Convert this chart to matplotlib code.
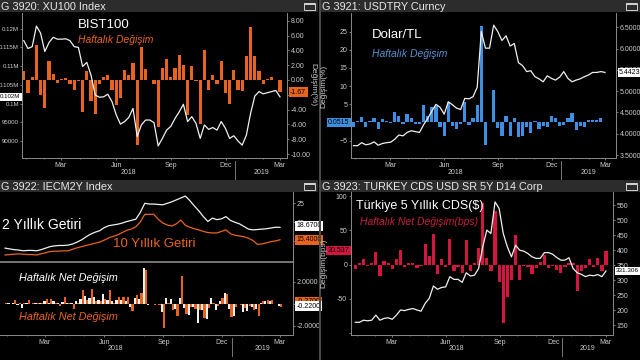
import matplotlib
matplotlib.use('Agg')
import matplotlib.pyplot as plt
import matplotlib.dates as mdates
from matplotlib.patches import Rectangle
from matplotlib.transforms import blended_transform_factory as blend
import pandas as pd

plt.rcParams['font.family'] = ['Liberation Sans', 'DejaVu Sans']

# weekly dates shared by all four panels
weeks = pd.date_range('2017-12-29', periods=62, freq='7D')

# --- G 3920: XU100 Index ---
bist_chg = [1.2, -1.7, 0.4, 4.7, -2.1, -3.8, 2.6, 0.8, -0.4, 0.1,
            0.2, -0.5, -1.4, -0.1, -4.3, 1.2, -2.8, -4.6, -0.6, 0.4,
            0.7, -1.4, -3.4, -2.5, 1.3, 0.7, 2.3, -8.8, 4.5, 1.5,
            0.0, -0.6, -6.4, 1.6, 2.8, 0.4, 1.6, 3.4, 2.0, -4.8,
            1.9, -0.1, -6.0, 4.1, -1.3, 0.7, -0.5, 2.6, -1.7, -3.2,
            1.4, -1.4, -1.5, 3.2, 7.2, 3.2, 1.2, -0.5, 0.1, 0.4,
            0.0, -1.67]
bist = [116800, 114700, 115200, 120700, 118800, 113900, 116300, 117700, 117200, 117200,
        117300, 116800, 115200, 115000, 109900, 111000, 107600, 102300, 101700, 101800,
        102500, 100500, 97000, 94500, 95200, 96300, 98700, 91200, 94300, 95600,
        95600, 94900, 88700, 90700, 92900, 93900, 96000, 97800, 99800, 95200,
        96500, 94700, 90700, 94300, 93100, 93600, 92900, 95200, 93400, 90700,
        91400, 90000, 88900, 91600, 97400, 102000, 103200, 102600, 102900, 103200,
        103500, 101800]
bist_ticks = [90000, 95000, 100000, 105000, 110000, 115000, 120000]
bist_ticklabels = ['90000', '95000', '0.1M', '0.105M', '0.11M', '0.115M', '0.12M']

# --- G 3921: USDTRY Curncy ---
usd_chg = [-1.3, 0.5, 1.5, -1.3, 0.5, 1.3, -1.7, 0.9, 0.4, -0.1,
           2.8, 1.7, -0.3, 2.3, 1.2, -0.3, -0.5, 4.7, 1.8, 4.2,
           4.5, -1.3, -3.6, 5.6, -1.0, -1.7, -0.3, 5.7, -0.6, 1.3,
           4.9, 26.5, -6.3, 0.0, 9.0, -1.5, -3.8, 1.8, -3.8, 1.3,
           -4.0, -3.8, -1.2, -2.8, 0.5, -1.8, -0.9, -1.3, 1.7, 1.1,
           -0.9, -0.7, 1.2, 2.5, -2.1, -1.0, -1.2, 0.8, 0.7, 0.8,
           1.2, 0.05]
usdtry = [3.72, 3.72, 3.79, 3.74, 3.76, 3.81, 3.73, 3.77, 3.79, 3.80,
          3.87, 3.97, 3.95, 4.03, 4.07, 4.05, 4.03, 4.21, 4.36, 4.53,
          4.69, 4.62, 4.46, 4.75, 4.68, 4.60, 4.57, 4.83, 4.82, 4.87,
          5.09, 6.40, 6.01, 6.01, 6.55, 6.40, 6.19, 6.30, 6.06, 6.12,
          5.67, 5.60, 5.46, 5.48, 5.34, 5.29, 5.22, 5.36, 5.30, 5.26,
          5.33, 5.46, 5.30, 5.22, 5.26, 5.29, 5.34, 5.38, 5.44, 5.44,
          5.46, 5.44]

# --- G 3922: IECM2Y Index ---
y2 = [13.2, 13.0, 12.8, 12.7, 12.5, 12.6, 12.6, 12.5, 12.8, 13.2,
      13.6, 13.8, 13.9, 13.9, 14.0, 14.3, 14.8, 15.4, 16.2, 16.9,
      17.4, 17.8, 18.6, 19.1, 19.3, 19.5, 19.8, 20.2, 20.5, 20.8,
      22.6, 25.0, 24.8, 24.8, 24.7, 24.6, 25.0, 25.4, 25.9, 26.4,
      26.9, 25.7, 24.3, 23.0, 21.5, 20.2, 21.1, 20.7, 20.9, 21.5,
      20.5, 20.0, 19.6, 18.9, 18.2, 18.0, 18.1, 18.2, 18.3, 18.5,
      18.7, 18.67]
y10 = [11.4, 11.5, 11.6, 11.7, 11.6, 11.5, 11.5, 11.4, 11.7, 12.0,
       12.3, 12.4, 12.4, 12.5, 12.5, 12.9, 13.3, 13.6, 13.9, 14.2,
       14.5, 14.8, 15.3, 15.9, 16.3, 16.7, 17.3, 17.9, 18.2, 18.8,
       20.1, 22.1, 22.1, 22.1, 20.8, 19.8, 19.3, 19.0, 19.6, 20.6,
       19.2, 18.7, 18.3, 18.0, 17.6, 17.3, 17.2, 17.2, 17.6, 18.0,
       17.0, 16.6, 16.4, 16.2, 15.8, 15.2, 14.2, 14.3, 14.6, 14.9,
       15.1, 15.4]
y2_chg = [0.0, 0.05, 0.1, -0.1, -0.35, 0.05, -0.05, 0.05, 0.1, 0.2,
          0.1, 0.2, 0.1, 0.15, 0.1, 0.1, 0.2, 0.4, 0.7, 0.5,
          0.6, 0.3, 0.9, 0.3, 0.2, 0.3, 0.3, 0.2, -0.3, 0.5,
          0.4, 3.2, -0.1, 0.0, -0.05, -0.8, 0.5, 0.4, -0.5, 0.5,
          -0.4, -1.0, -0.3, -1.8, -0.6, -1.4, 0.5, -0.6, 0.2, 1.0,
          -0.5, -1.1, -0.05, -0.8, -0.7, -0.3, -0.5, 0.1, 0.2, 0.2,
          -0.05, -0.22]
y10_chg = [0.05, -0.05, 0.35, 0.1, 0.1, 0.3, 0.05, 0.05, 0.05, 0.4,
           0.4, 0.1, -0.2, 0.6, 0.05, -0.5, 0.05, 1.2, 0.3, 1.3,
           0.2, 0.2, 0.4, 1.2, 0.1, 0.6, 0.6, 0.6, -0.7, 0.8,
           1.0, 3.1, 0.0, -0.1, -0.1, -2.2, 0.1, -0.6, -1.1, 2.5,
           -0.9, -0.3, -0.5, -0.6, -1.3, -0.4, 0.1, -0.2, 0.5, 0.9,
           -1.2, -0.3, -0.1, -0.4, -0.2, -0.6, -1.1, 0.2, 0.3, 0.3,
           0.0, -0.27]

# --- G 3923: TURKEY CDS USD SR 5Y D14 Corp ---
cds_chg = [-7, 2, 8, -2, 2, 18, -17, 5, 3, -6,
           8, 22, -3, 3, 3, -5, -2, 30, 13, 45,
           -13, 8, -4, 37, -10, -3, -12, 36, -10, 3,
           25, 90, 10, -10, 78, -25, -85, -47, -22, 43,
           -22, -2, -3, -14, -5, 4, 14, -5, -2, -8,
           -12, -3, 3, 3, -38, -10, -5, 8, -4, 9,
           -10, 20.537]
cds = [160, 160, 167, 165, 167, 184, 167, 173, 175, 170,
       184, 201, 199, 203, 206, 201, 197, 223, 240, 281,
       270, 276, 278, 312, 303, 303, 293, 325, 314, 317,
       339, 411, 467, 456, 561, 539, 456, 411, 378, 417,
       400, 397, 389, 378, 373, 373, 392, 392, 387, 376,
       367, 367, 375, 339, 325, 320, 312, 317, 315, 319,
       312, 331]

ORANGE = '#e8641e'
BLUE = '#3d8fe3'
RED = '#d3163d'
WHITE = '#f0f0f0'
GRAY = '#8a8a8a'
TXT = '#cccccc'
FS = 5  # tick label size

fig = plt.figure(figsize=(6.4, 3.6), dpi=100, facecolor='black')


def box(x0, y0, x1, y1):
    return [x0 / 640, 1 - y1 / 360, (x1 - x0) / 640, (y1 - y0) / 360]


def style(ax):
    ax.set_facecolor('black')
    for s in ax.spines.values():
        s.set_visible(False)
        s.set_color(GRAY)
        s.set_linewidth(0.7)
    ax.tick_params(colors=GRAY, labelcolor=TXT, labelsize=FS, length=1.5, width=0.6, pad=1.2)
    ax.tick_params(which='minor', length=1, width=0.5, colors=GRAY)


def time_axis(ax, x0, x1, m18, m19, h):
    d18 = mdates.date2num(pd.Timestamp('2018-03-01'))
    d19 = mdates.date2num(pd.Timestamp('2019-03-01'))
    k = (d19 - d18) / (m19 - m18)
    lo, hi = d18 + (x0 - m18) * k, d18 + (x1 - m18) * k
    ax.xaxis.set_major_locator(mdates.MonthLocator(bymonth=[3, 6, 9, 12]))
    ax.xaxis.set_major_formatter(mdates.DateFormatter('%b'))
    ax.xaxis.set_minor_locator(mdates.MonthLocator())
    ax.spines['bottom'].set_visible(True)
    sep = mdates.date2num(pd.Timestamp('2018-12-16'))
    tr = blend(ax.transData, ax.transAxes)
    ax.plot([sep, sep], [-3 / h, -21 / h], transform=tr, color=GRAY, lw=0.6, clip_on=False)
    kw = dict(transform=tr, color=TXT, fontsize=FS, ha='center', va='center')
    ax.text((lo + sep) / 2, -14 / h, '2018', **kw)
    ax.text((sep + hi) / 2, -14 / h, '2019', **kw)
    ax.set_xlim(lo, hi)


def tag(ax, side, y, s, fc, fs=FS):
    x, ha = (1.012, 'left') if side == 'right' else (-0.006, 'right')
    ax.text(x, y, s, transform=blend(ax.transAxes, ax.transData), ha=ha, va='center',
            fontsize=fs, color='black', bbox=dict(boxstyle='square,pad=0.2', fc=fc, ec='none'))


def title_bar(x0, y0, x1, label):
    fig.add_artist(Rectangle((x0 / 640, 1 - (y0 + 12) / 360), (x1 - x0) / 640, 12 / 360,
                             transform=fig.transFigure, fc='#2c2c2c', ec='none'))
    fig.text((x0 + 1) / 640, 1 - (y0 + 6.5) / 360, label, color='#e8e8e8', fontsize=7.8,
             ha='left', va='center')
    fig.add_artist(Rectangle(((x1 - 14) / 640, 1 - (y0 + 10) / 360), 11 / 640, 7 / 360,
                             transform=fig.transFigure, fc='none', ec='#d0d0d0', lw=0.7))
    fig.add_artist(Rectangle(((x1 - 14) / 640, 1 - (y0 + 5) / 360), 11 / 640, 2 / 360,
                             transform=fig.transFigure, fc='#d0d0d0', ec='none'))


# panel frames
title_bar(0, 0, 318, 'G 3920: XU100 Index')
title_bar(321, 0, 640, 'G 3921: USDTRY Curncy')
title_bar(0, 180, 318, 'G 3922: IECM2Y Index')
title_bar(321, 180, 640, 'G 3923: TURKEY CDS USD SR 5Y D14 Corp')
fig.add_artist(plt.Line2D([319.5 / 640] * 2, [0, 1], transform=fig.transFigure, color='#4a4a4a', lw=1.5))

# ---------------- panel 1 ----------------
ax1 = fig.add_axes(box(22, 13, 287, 158))
style(ax1)
ax1.bar(weeks, bist_chg, width=5.5, color=ORANGE)
ax1.spines['right'].set_visible(True)
ax1.spines['left'].set_visible(True)
time_axis(ax1, 22, 287, 61, 280, 145)
ax1l = ax1.twinx()
style(ax1l)
ax1.yaxis.tick_right()
ax1l.yaxis.tick_left()
ax1l.tick_params(labelsize=4.4, pad=0.6)
ax1.set_yticks(range(-10, 9, 2))
ax1.set_yticklabels([f'{v:.2f}' for v in range(-10, 9, 2)])
ax1.set_ylim(-10.54, 9.04)
ax1l.plot(weeks, bist, color=WHITE, lw=0.9)
ax1l.set_yticks(bist_ticks)
ax1l.set_yticklabels(bist_ticklabels)
ax1l.set_ylim(85460, 124190)
tag(ax1l, 'left', bist[-1], '0.102M', 'white', fs=4.4)
tag(ax1, 'right', bist_chg[-1], '-1.67', ORANGE)
ax1.text(0.21, 0.92, 'BIST100', transform=ax1.transAxes, color='white', fontsize=9.5, va='center')
ax1.text(0.21, 0.815, 'Haftalık Değişim', transform=ax1.transAxes, color=ORANGE, fontsize=7.5,
         style='italic', va='center')
fig.text(313 / 640, 1 - 85 / 360, 'Değişim(%)', rotation=270, color=TXT, fontsize=6,
         ha='center', va='center')

# ---------------- panel 2 ----------------
ax2 = fig.add_axes(box(351, 13, 616, 158))
style(ax2)
ax2.bar(weeks, usd_chg, width=5.5, color=BLUE)
ax2.spines['left'].set_visible(True)
ax2.spines['right'].set_visible(True)
time_axis(ax2, 351, 616, 390, 605, 145)
ax2r = ax2.twinx()
style(ax2r)
ax2.set_yticks([-5, 0, 5, 10, 15, 20, 25])
ax2.set_ylim(-9.76, 30.1)
ax2r.plot(weeks, usdtry, color=WHITE, lw=0.9)
ax2r.set_yticks([3.5, 4.0, 4.5, 5.0, 5.5, 6.0, 6.5])
ax2r.set_yticklabels([f'{v:.4f}' for v in [3.5, 4.0, 4.5, 5.0, 5.5, 6.0, 6.5]])
ax2r.set_ylim(3.43, 6.836)
tag(ax2, 'left', 0, '0.0515', BLUE)
tag(ax2r, 'right', usdtry[-1], '5.4423', 'white')
ax2.text(0.08, 0.85, 'Dolar/TL', transform=ax2.transAxes, color='white', fontsize=9.5, va='center')
ax2.text(0.08, 0.72, 'Haftalık Değişim', transform=ax2.transAxes, color='#5a8fd0', fontsize=7.5,
         style='italic', va='center')
fig.text(324 / 640, 1 - 86 / 360, 'Değişim(%)', rotation=90, color=TXT, fontsize=6,
         ha='center', va='center')

# ---------------- panel 3 ----------------
ax3t = fig.add_axes(box(0, 190, 293, 262))
style(ax3t)
ax3t.plot(weeks, y2, color=WHITE, lw=0.9)
ax3t.plot(weeks, y10, color=ORANGE, lw=0.9)
ax3t.yaxis.tick_right()
ax3t.set_yticks([15, 20, 25])
ax3t.spines['right'].set_visible(True)
ax3t.spines['bottom'].set_visible(True)
ax3t.spines['bottom'].set_linewidth(1.2)
ax3t.tick_params(axis='x', which='both', length=0, labelbottom=False)
ax3t.set_ylim(9.55, 28.5)
tag(ax3t, 'right', y2[-1] + 0.4, '18.6700', 'white')
tag(ax3t, 'right', y10[-1], '15.4000', ORANGE)
ax3t.text(0.008, 0.52, '2 Yıllık Getiri', transform=ax3t.transAxes, color='white', fontsize=10,
          va='center')
ax3t.text(0.385, 0.25, '10 Yıllık Getiri', transform=ax3t.transAxes, color=ORANGE, fontsize=9.5,
          va='center')

ax3b = fig.add_axes(box(0, 263, 293, 335))
style(ax3b)
wk = mdates.date2num(weeks)
ax3b.bar(wk - 1.8, y2_chg, width=3.4, color=WHITE)
ax3b.bar(wk + 1.8, y10_chg, width=3.4, color=ORANGE)
ax3b.yaxis.tick_right()
ax3b.set_yticks([-2, 0, 2])
ax3b.set_yticklabels(['-2.0000', '0.0000', '2.0000'])
ax3b.spines['right'].set_visible(True)
ax3b.set_ylim(-2.85, 3.7)
time_axis(ax3b, 0, 293, 45, 280, 72)
ax3t.set_xlim(ax3b.get_xlim())
tag(ax3b, 'right', 0.2, '-0.2700', ORANGE)
tag(ax3b, 'right', -0.22, '-0.2200', 'white')
ax3b.text(0.065, 0.79, 'Haftalık Net Değişim', transform=ax3b.transAxes, color='white',
          fontsize=7.8, style='italic', va='center')
ax3b.text(0.065, 0.25, 'Haftalık Net Değişim', transform=ax3b.transAxes, color=ORANGE,
          fontsize=7.8, style='italic', va='center')

# ---------------- panel 4 ----------------
ax4 = fig.add_axes(box(351, 192, 613, 335))
style(ax4)
ax4.bar(weeks, cds_chg, width=5.5, color=RED)
ax4.spines['left'].set_visible(True)
ax4.spines['right'].set_visible(True)
time_axis(ax4, 351, 613, 391.7, 606, 143)
ax4r = ax4.twinx()
style(ax4r)
ax4.set_yticks([-100, -50, 0, 50, 100])
ax4.set_yticklabels(['', '-50', '0', '50', '100'])
ax4.set_ylim(-103, 106.3)
ax4r.plot(weeks, cds, color=WHITE, lw=0.9)
ax4r.set_yticks(range(150, 551, 50))
ax4r.set_ylim(117.7, 594)
tag(ax4, 'left', cds_chg[-1], '20.537', RED)
tag(ax4r, 'right', cds[-1], '331.306', 'white', fs=4.6)
ax4.text(0.02, 0.9, 'Türkiye 5 Yıllık CDS($)', transform=ax4.transAxes, color='white',
         fontsize=9, va='center')
ax4.text(0.035, 0.79, 'Haftalık Net Değişim(bps)', transform=ax4.transAxes, color='#c8203c',
         fontsize=7.5, style='italic', va='center')
fig.text(324 / 640, 1 - 263 / 360, 'Değişim(bps)', rotation=90, color=TXT, fontsize=6,
         ha='center', va='center')

fig.savefig('out.png', dpi=100, facecolor='black')
